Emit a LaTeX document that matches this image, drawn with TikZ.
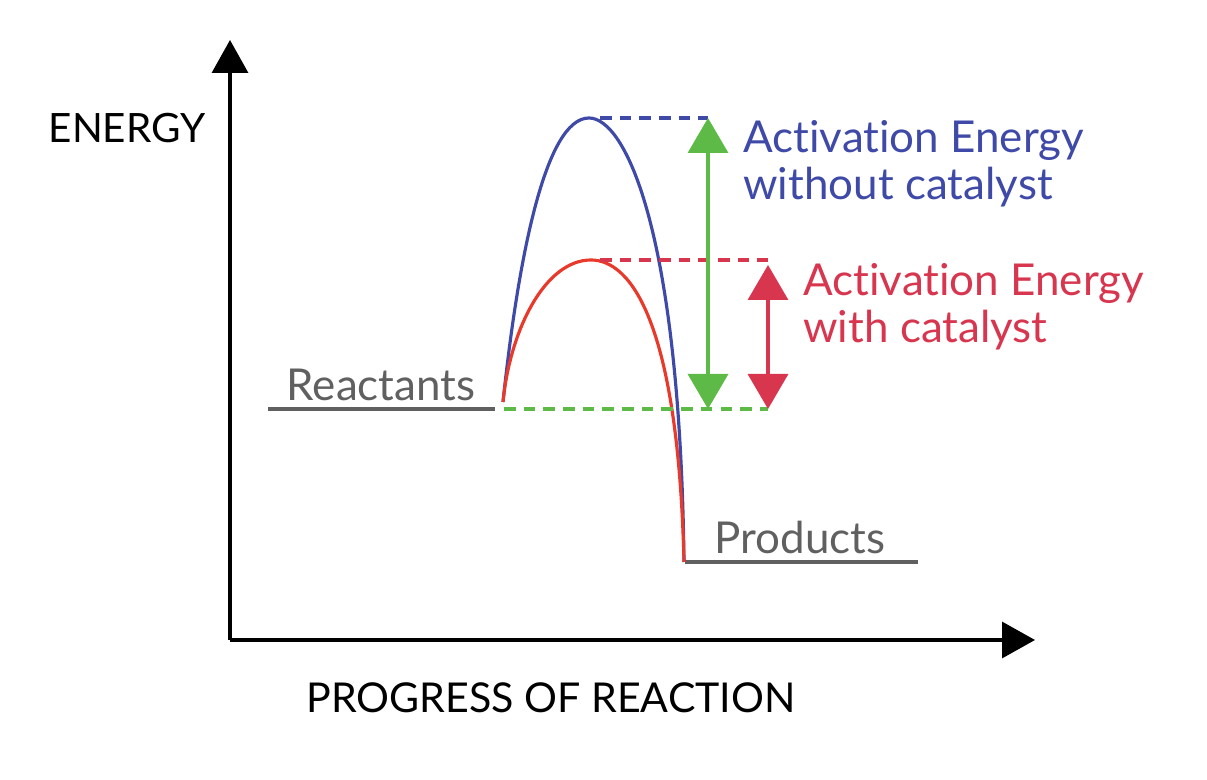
\documentclass[tikz,border=0pt]{standalone}
\usepackage{fontspec}
\setmainfont{Lato}[Ligatures={NoCommon,NoDiscretionary}]
\usetikzlibrary{arrows.meta}
\definecolor{nocat}{HTML}{3F4AA8}
\definecolor{cat}{HTML}{E8392B}
\definecolor{catarrow}{HTML}{D8354F}
\definecolor{gap}{HTML}{5DBA47}
\definecolor{level}{HTML}{606060}

\begin{document}
\begin{tikzpicture}[
    axis/.style={line width=0.95pt,-{Triangle[width=0.36cm,length=0.33cm]}},
    levelline/.style={level,line width=0.95pt},
    curve/.style={line width=0.9pt},
    guide/.style={dash pattern=on 3.3pt off 2.3pt,line width=0.9pt},
    gaparrow/.style={line width=0.95pt,{Triangle[width=0.40cm,length=0.35cm]}-{Triangle[width=0.40cm,length=0.35cm]}},
    lbl/.style={font=\fontsize{11.5}{13}\selectfont},
    side/.style={font=\fontsize{12.5}{13.4}\selectfont,align=left,anchor=west}]
  \useasboundingbox (0,0) rectangle (12.07,7.8);
  % axes
  \coordinate (o) at (2.30,1.40);
  \coordinate (ytip) at (2.30,7.40);
  \coordinate (xtip) at (10.35,1.40);
  \draw[axis] (o)--(ytip);
  \draw[axis] (o)--(xtip);
  \node[lbl] (energy) at (1.27,6.52) {ENERGY};
  \node[lbl,font=\fontsize{11.7}{13}\selectfont] (progress) at (5.51,0.82) {PROGRESS OF REACTION};
  % levels
  \coordinate (r1) at (2.68,3.71);
  \coordinate (r2) at (4.95,3.71);
  \coordinate (p1) at (6.85,2.18);
  \coordinate (p2) at (9.18,2.18);
  \draw[levelline] (r1)--(r2);
  \draw[levelline] (p1)--(p2);
  \node[lbl,level,font=\fontsize{12.5}{14}\selectfont] (reactants) at (3.81,3.95) {Reactants};
  \node[lbl,level,font=\fontsize{12.5}{14}\selectfont] (products) at (8.00,2.42) {Products};
  % curves
  \coordinate (start) at (5.03,3.78);
  \coordinate (end) at (6.84,2.18);
  \coordinate (bpeak) at (5.89,6.62);
  \coordinate (rpeak) at (5.91,5.20);
  \draw[curve,nocat] (start) .. controls (5.18,5.2) and (5.45,6.62) .. (bpeak)
                              .. controls (6.25,6.62) and (6.80,5.5) .. (end);
  \draw[curve,cat] (start) .. controls (5.10,4.5) and (5.45,5.20) .. (rpeak)
                            .. controls (6.30,5.20) and (6.78,4.6) .. (end);
  % dashed guides
  \coordinate (bg) at (7.08,6.62);
  \coordinate (rg) at (7.68,5.20);
  \coordinate (g1) at (5.04,3.71);
  \coordinate (g2) at (7.68,3.71);
  \coordinate (gb) at (7.08,3.71);
  \draw[guide,nocat] (6.0,6.62)--(bg);
  \draw[guide,catarrow] (6.0,5.20)--(rg);
  \draw[guide,gap] (g1)--(g2);
  % arrows
  \draw[gaparrow,gap] (bg)--(gb);
  \draw[gaparrow,catarrow] (7.68,5.15)--(g2);
  \node[side,nocat] (without) at (7.31,6.16) {Activation Energy\\without catalyst};
  \node[side,catarrow] (with) at (7.91,4.73) {Activation Energy\\with catalyst};
\end{tikzpicture}
\end{document}
